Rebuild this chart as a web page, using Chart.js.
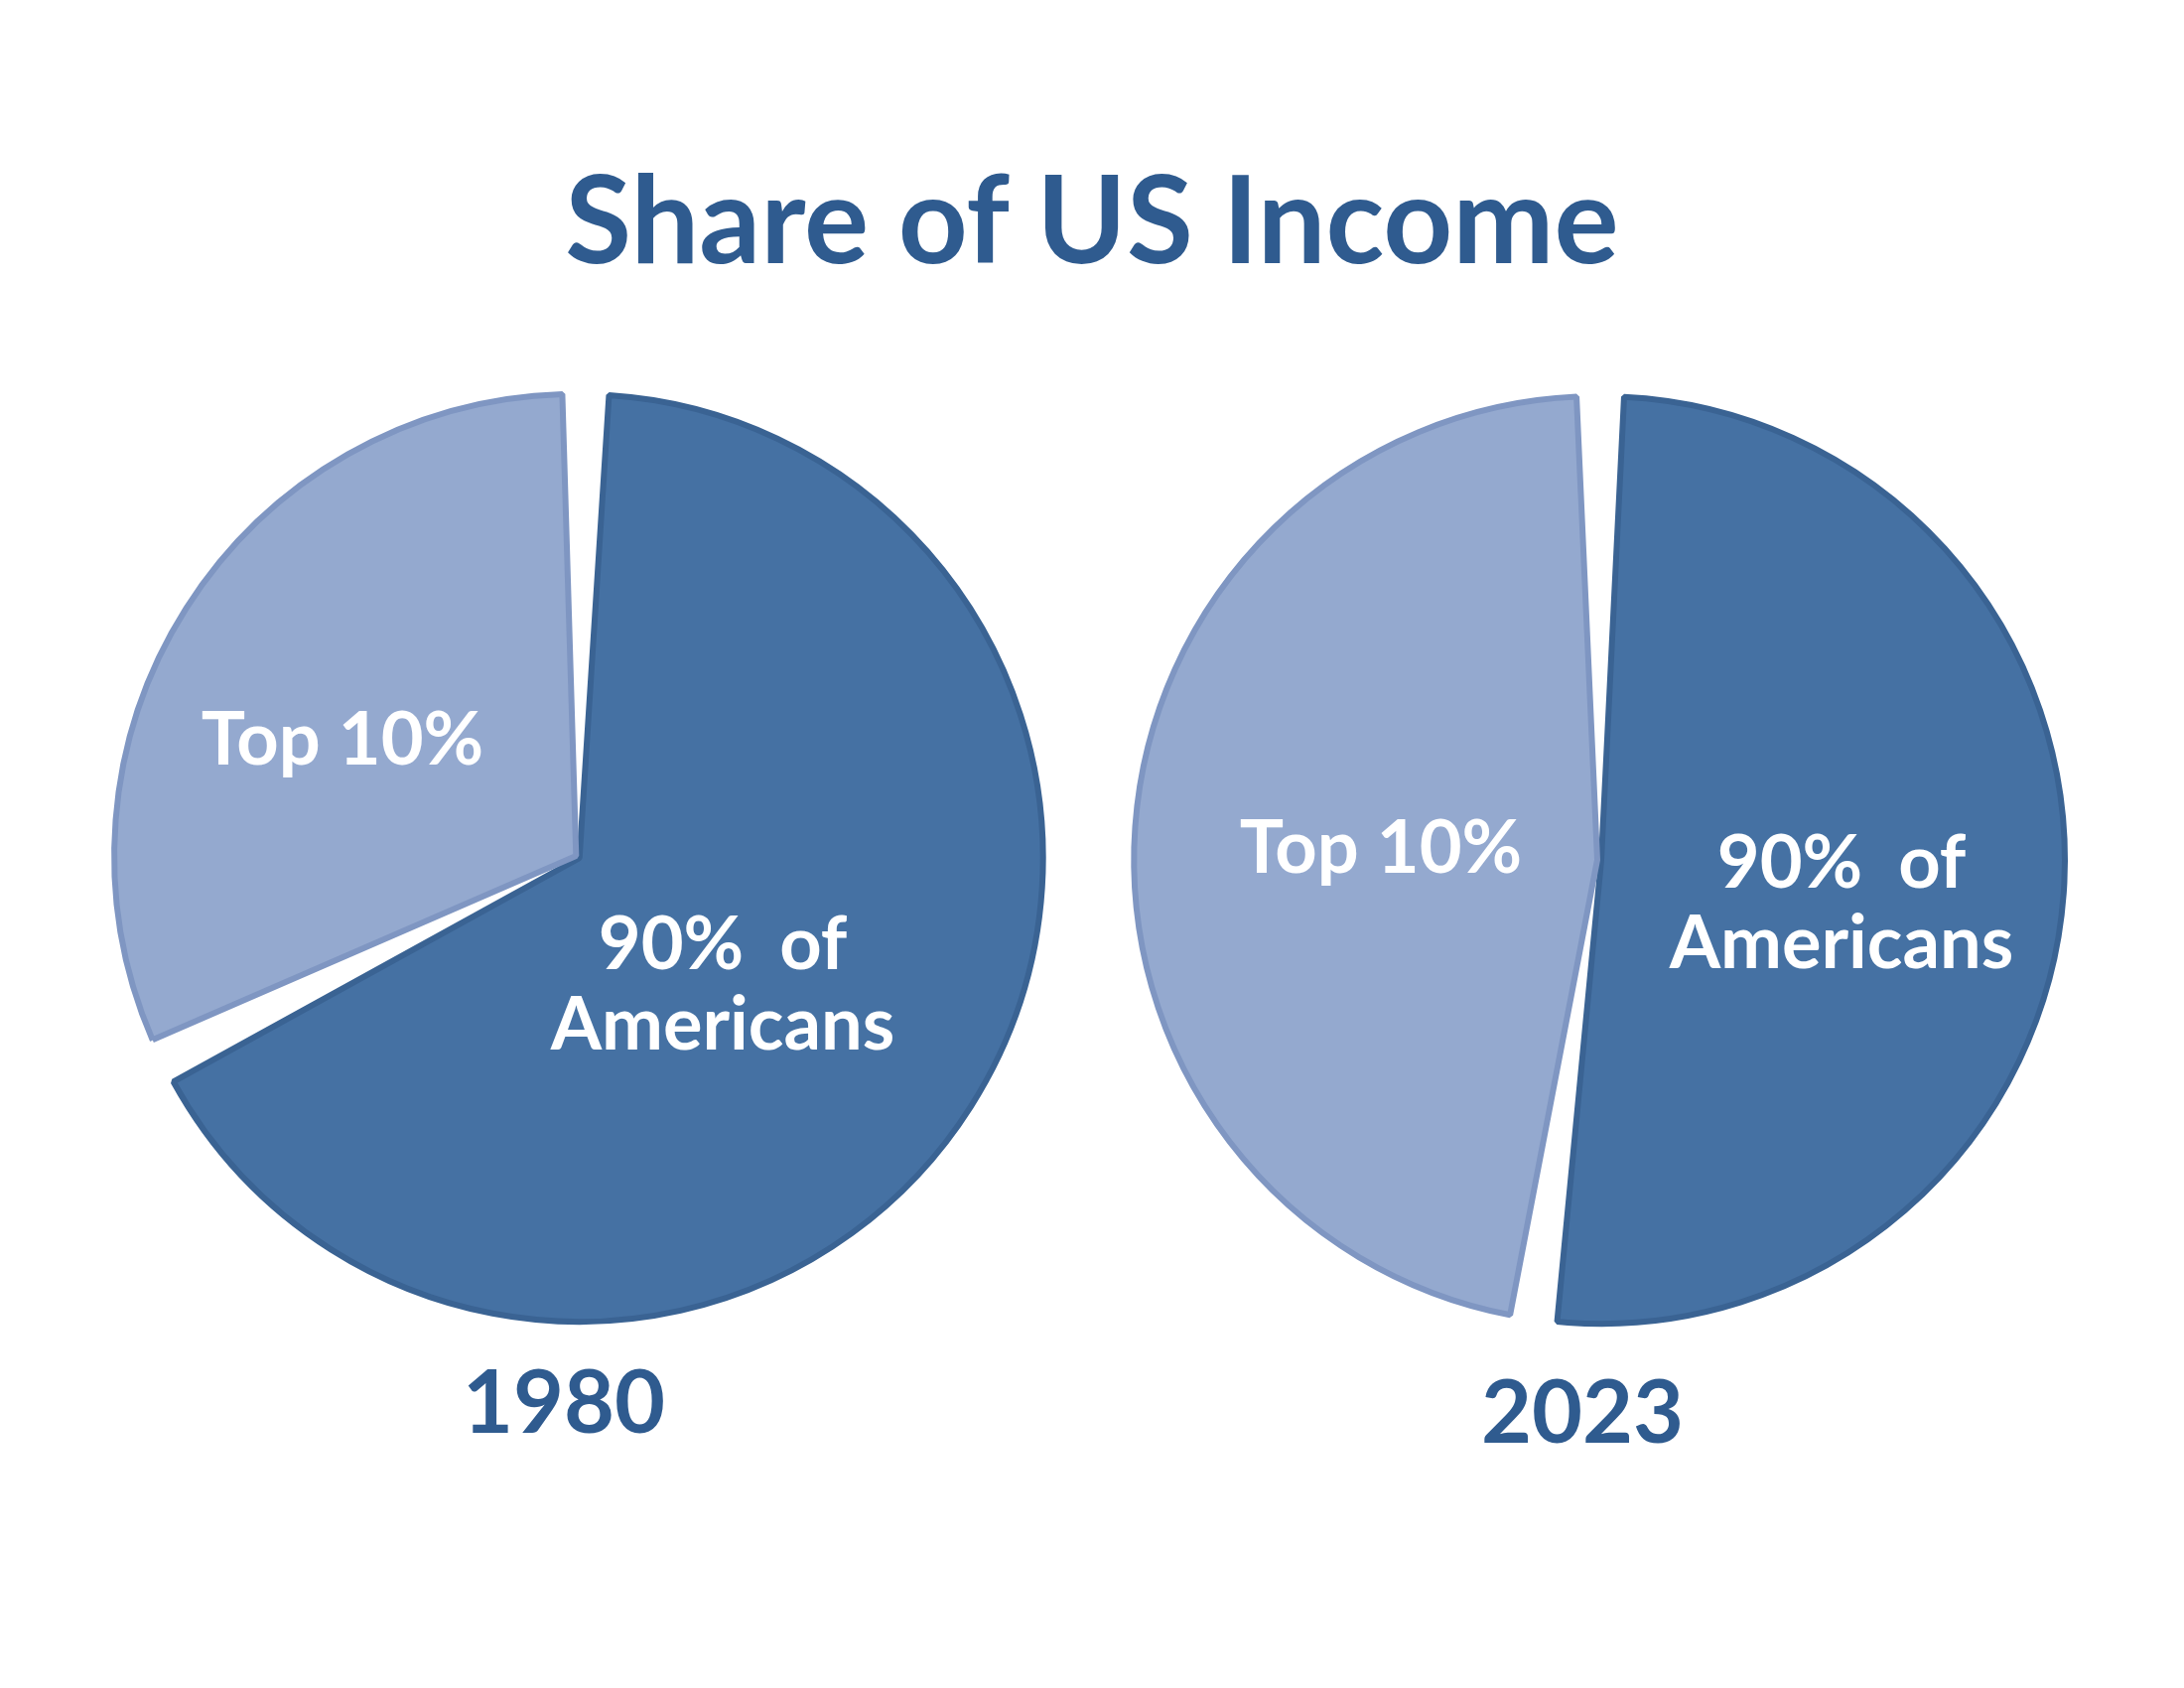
<!DOCTYPE html>
<html>
<head>
<meta charset="utf-8">
<script src="https://cdn.jsdelivr.net/npm/chart.js@4"></script>
<style>
  body { margin:0; width:2200px; height:1700px; background:#fff; position:relative; font-family:Lato, "Open Sans", sans-serif; overflow:hidden; }
  .t { position:absolute; font-weight:bold; white-space:nowrap; transform:translate(-50%,-50%); text-align:center; line-height:1.1; }
  .title { color:#2F5B8F; font-size:122px; }
  .year { color:#2F5B8F; font-size:88px; }
  .lbl { color:#fff; font-size:74px; }
  canvas { position:absolute; }
</style>
</head>
<body>
<div class="t title" style="left:1100px;top:218px">Share of US Income</div>

<canvas id="pie1980" width="960" height="960" style="left:102px;top:383px"></canvas>
<canvas id="pie2023" width="960" height="960" style="left:1131px;top:386px"></canvas>

<div class="t lbl" style="left:345px;top:742px">Top 10%</div>
<div class="t lbl" style="left:728px;top:988px">90%&nbsp; of<br>Americans</div>
<div class="t lbl" style="left:1391px;top:851px">Top 10%</div>
<div class="t lbl" style="left:1855px;top:906px">90%&nbsp; of<br>Americans</div>

<div class="t year" style="left:568px;top:1409px">1980</div>
<div class="t year" style="left:1594px;top:1419px">2023</div>

<script>
// shares of income, percent
const categories = ['90% of Americans', 'Top 10%'];
const share1980 = [68, 32];
const share2023 = [52.3, 47.7];

const fillColors = ['#4571A3', '#94A9CF'];
const edgeColors = ['#3A6393', '#7F96C2'];

function makePie(id, values) {
    new Chart(document.getElementById(id), {
        type: 'pie',
        data: {
            labels: categories,
            datasets: [{
                data: values,
                backgroundColor: fillColors,
                borderColor: edgeColors,
                borderWidth: 6,
                offset: 8,
                spacing: 14
            }]
        },
        options: {
            responsive: false,
            animation: false,
            devicePixelRatio: 1,
            rotation: 0,
            radius: 458,
            plugins: { legend: { display: false }, tooltip: { enabled: false } }
        }
    });
}

makePie('pie1980', share1980);
makePie('pie2023', share2023);
</script>
</body>
</html>
